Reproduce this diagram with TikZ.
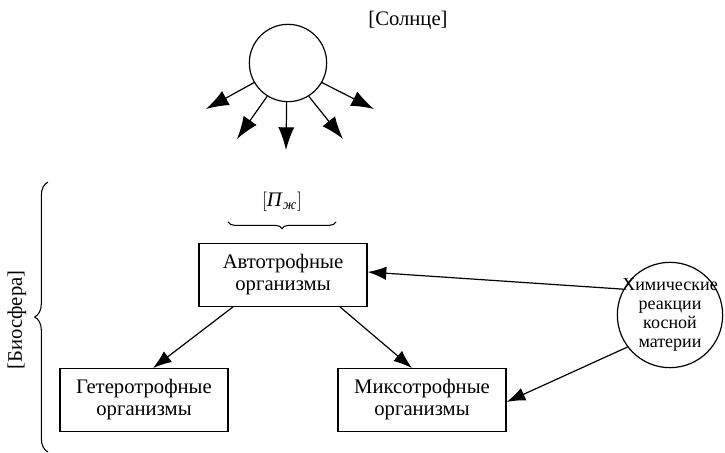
\documentclass[tikz,border=0pt]{standalone}
\usepackage{fontspec}
\setmainfont{Liberation Serif}
\usetikzlibrary{arrows.meta,positioning,calc,decorations.pathreplacing}

\tikzset{
  orgbox/.style={draw,line width=0.9pt,minimum width=126pt,minimum height=47pt,
    align=center,font=\fontsize{15.5}{16.5}\selectfont},
  ray/.style={-{Latex[length=17pt,width=12pt]},line width=0.9pt},
  link/.style={-{Latex[length=14pt,width=10pt]},line width=0.9pt},
}

\begin{document}
\begin{tikzpicture}[x=0.75pt,y=-0.75pt]
        \useasboundingbox (0,0) rectangle (725,453);
        % sun and its rays
        \node[draw,circle,line width=0.9pt,minimum size=58pt,inner sep=0pt] (sun) at (288,63) {};
        \node[font=\fontsize{15.5}{16.5}\selectfont] (sunlbl) at (408,20) {[Солнце]};
        \coordinate (r1) at (206,109);
        \coordinate (r2) at (237,139);
        \coordinate (r3) at (286,150);
        \coordinate (r4) at (343,139);
        \coordinate (r5) at (374,109);
        \foreach \a/\t in {210/r1,238/r2,268/r3,302/r4,330/r5}
          \draw[ray] (sun.\a) -- (\t);
        % biosphere
        \coordinate (bioA) at (48,452);
        \coordinate (bioB) at (48,182);
        \draw[line width=0.8pt,decorate,decoration={brace,amplitude=10pt}] (bioA) -- (bioB);
        \node[rotate=90,font=\fontsize{15.5}{16.5}\selectfont] (bio) at (17,320) {[Биосфера]};
        % organisms
        \node[orgbox] (auto) at (283,275) {Автотрофные\\организмы};
        \node[orgbox] (hetero) at (144,400) {Гетеротрофные\\организмы};
        \node[orgbox] (myco) at (422,400) {Миксотрофные\\организмы};
        \coordinate (pA) at (336,222);
        \coordinate (pB) at (228,222);
        \draw[line width=0.8pt,decorate,decoration={brace,amplitude=5pt}] (pA) -- (pB);
        \node[font=\fontsize{15.5}{16.5}\selectfont] (pzh) at (282,202) {$[$\textit{П}\textsubscript{\textit{ж}}$]$};
        % inert matter
        \node[draw,circle,line width=0.9pt,minimum size=79pt,inner sep=-4pt,align=center,
          font=\fontsize{13.5}{14.3}\selectfont] (chem) at (670,315)
          {Химические\\реакции\\косной\\материи};
        \draw[link] ($(auto.south)+(-50,0)$) coordinate (a1) (a1) -- ($(hetero.north)+(9,0)$);
        \draw[link] ($(auto.south)+(57,0)$) coordinate (a2) (a2) -- ($(myco.north)+(-10,0)$);
        \draw[link] (chem.151) -- ($(auto.east)+(0,-3)$);
        \draw[link] (chem.217) -- ($(myco.east)+(0,2)$);
      \end{tikzpicture}
\end{document}
